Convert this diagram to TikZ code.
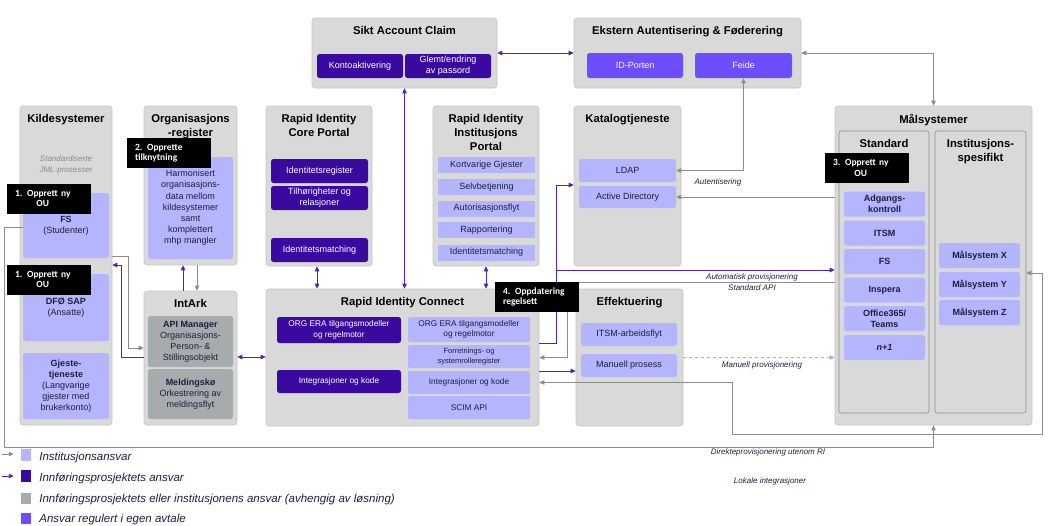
\documentclass[tikz,border=0pt]{standalone}
\usepackage{fontspec}
\setmainfont{Liberation Sans}
\newfontfamily\tagfamily[WordSpace=0.75]{Carlito}
\usepackage{xcolor}
\usepackage{tikz}
\usetikzlibrary{arrows.meta,positioning}

\definecolor{boxgray}{HTML}{D9D9D9}
\definecolor{boxline}{HTML}{C6C6C6}
\definecolor{colline}{HTML}{8E8E8E}
\definecolor{lavender}{HTML}{B4B4FF}
\definecolor{deeppurple}{HTML}{3A0AA0}
\definecolor{midpurple}{HTML}{6E4CFF}
\definecolor{slategray}{HTML}{A6ABAD}
\definecolor{ink}{HTML}{1E1E3C}
\definecolor{arrgray}{HTML}{8C8C8C}
\definecolor{arrpurple}{HTML}{4E22C4}
\definecolor{dashpurple}{HTML}{ADA6F5}
\definecolor{notegray}{HTML}{8A8A8A}

\newcommand{\setfs}[2]{\fontsize{#1}{#2}\selectfont}

\begin{document}
\begin{tikzpicture}[x=1pt, y=-1pt,
    >={Triangle[length=5pt, width=4.5pt]},
    sz/.style 2 args={minimum width=#1pt, minimum height=#2pt},
    grp/.style={draw=boxline, fill=boxgray, rounded corners=3pt, line width=0.6pt, inner sep=0pt},
    col/.style={draw=colline, fill=boxgray, rounded corners=2pt, line width=0.6pt, inner sep=0pt},
    item/.style={rounded corners=2.5pt, inner sep=0pt, align=center, font=\setfs{9}{11}},
    lite/.style={item, fill=lavender, text=ink},
    dark/.style={item, fill=deeppurple, text=white},
    mid/.style={item, fill=midpurple, text=white},
    slate/.style={item, fill=slategray, text=ink},
    title/.style={inner sep=0pt, align=center, font=\bfseries\setfs{11.3}{14}, text=black},
    tagbox/.style={fill=black, text=white, inner xsep=8pt, inner ysep=0pt, align=left,
        text width=68pt, minimum height=30pt, font=\tagfamily\bfseries\setfs{9.5}{10.5}},
    note/.style={inner sep=0pt, font=\itshape\setfs{8}{9.5}, text=ink},
    legend/.style={inner sep=0pt, anchor=base west, font=\itshape\setfs{11.5}{13}, text=ink},
    garr/.style={draw=arrgray, line width=0.7pt, ->},
    parr/.style={draw=arrpurple, line width=0.9pt, ->},
]
\useasboundingbox (0,0) rectangle (1051,525);

% groups
\node[grp, sz={92}{319}] (kilde) at (66,265.5) {};
\node[grp, sz={93}{159}] (orgreg) at (190.5,185.5) {};
\node[grp, sz={93}{134}] (intark) at (190.5,358) {};
\node[grp, sz={185}{70}] (sikt) at (404.5,53) {};
\node[grp, sz={106}{160}] (core) at (319,186) {};
\node[grp, sz={106}{160}] (instp) at (486,186) {};
\node[grp, sz={227}{70}] (ekstern) at (687.5,53) {};
\node[grp, sz={107}{160}] (katalog) at (627.5,186) {};
\node[grp, sz={273}{137}] (ric) at (402.5,357.5) {};
\node[grp, sz={107}{137}] (effekt) at (629.5,357.5) {};
\node[grp, sz={197}{319}] (malsys) at (933.5,265.5) {};
\node[col, sz={90}{282}] (stdcol) at (884,272) {};
\node[col, sz={91}{282}] (instcol) at (980.5,272) {};

% titles
\node[title, below=8.5pt of kilde.north] (kildeT) {Kildesystemer};
\node[title, below=8.5pt of orgreg.north] (orgregT) {Organisasjons\\-register};
\node[title, below=8.5pt of intark.north] (intarkT) {IntArk};
\node[title, below=8.5pt of sikt.north] (siktT) {Sikt Account Claim};
\node[title, below=8.5pt of core.north] (coreT) {Rapid Identity\\Core Portal};
\node[title, below=8.5pt of instp.north] (instpT) {Rapid Identity\\Institusjons\\Portal};
\node[title, below=8.5pt of ekstern.north] (eksternT) {Ekstern Autentisering \& Føderering};
\node[title, below=8.5pt of katalog.north] (katalogT) {Katalogtjeneste};
\node[title, below=8.5pt of ric.north] (ricT) {Rapid Identity Connect};
\node[title, below=8.5pt of effekt.north] (effektT) {Effektuering};
\node[title, below=8pt of malsys.north] (malsysT) {Målsystemer};
\node[title, below=8.5pt of stdcol.north] (stdT) {Standard};
\node[title, below=8.5pt of instcol.north] (instT) {Institusjons-\\spesifikt};

% kildesystemer
\node[note, text=notegray, align=center, font=\itshape\setfs{8}{11}] (jml) at (66,165) {Standardiserte\\JML-prosesser};
\node[lite, sz={86}{65}] (fs) at (66,225.5) {\textbf{FS}\\(Studenter)};
\node[lite, sz={86}{67}] (dfo) at (66,307.5) {\textbf{DFØ SAP}\\(Ansatte)};
\node[lite, sz={86}{66}] (gjest) at (66,386) {\textbf{Gjeste-}\\\textbf{tjeneste}\\(Langvarige\\gjester med\\brukerkonto)};

% organisasjonsregister og IntArk
\node[lite, sz={85}{102}, font=\setfs{9}{11.2}] (harm) at (190.5,208) {Harmonisert\\organisasjons-\\data mellom\\kildesystemer\\samt\\komplettert\\mhp mangler};
\node[slate, sz={85}{51}] (apim) at (190.5,341.5) {\textbf{API Manager}\\Organisasjons-\\Person- \&\\Stillingsobjekt};
\node[slate, sz={85}{50}] (meld) at (190.5,394) {\textbf{Meldingskø}\\Orkestrering av\\meldingsflyt};

% sikt account claim
\node[dark, sz={86}{24}] (konto) at (360,66) {Kontoaktivering};
\node[dark, sz={86}{24}] (glemt) at (448,66) {Glemt/endring\\av passord};

% core portal
\node[dark, sz={97}{24}] (idreg) at (319.5,171) {Identitetsregister};
\node[dark, sz={97}{24}] (tilh) at (319.5,198) {Tilhørigheter og\\relasjoner};
\node[dark, sz={97}{24}] (idmat1) at (319.5,250) {Identitetsmatching};

% institusjons portal
\node[lite, sz={97}{16}, rounded corners=0pt] (kort) at (486.5,165) {Kortvarige Gjester};
\node[lite, sz={97}{16}, rounded corners=0pt] (selv) at (486.5,187) {Selvbetjening};
\node[lite, sz={97}{16}, rounded corners=0pt] (autor) at (486.5,208.5) {Autorisasjonsflyt};
\node[lite, sz={97}{16}, rounded corners=0pt] (rapp) at (486.5,230) {Rapportering};
\node[lite, sz={97}{16}, rounded corners=0pt] (idmat2) at (486.5,252.5) {Identitetsmatching};

% ekstern autentisering og katalog
\node[mid, sz={96}{25}] (idport) at (635,65.5) {ID-Porten};
\node[mid, sz={97}{25}] (feide) at (743.5,65.5) {Feide};
\node[lite, sz={97}{23}] (ldap) at (627.5,170.5) {LDAP};
\node[lite, sz={97}{22}] (ad) at (627.5,197) {Active Directory};

% maalsystemer
\node[lite, sz={81}{25}, font=\bfseries\setfs{9}{11}] (adg) at (884.5,204) {Adgangs-\\kontroll};
\node[lite, sz={81}{25}, font=\bfseries\setfs{9}{11}] (itsm) at (884.5,233) {ITSM};
\node[lite, sz={81}{25}, font=\bfseries\setfs{9}{11}] (fs2) at (884.5,261.5) {FS};
\node[lite, sz={81}{25}, font=\bfseries\setfs{9}{11}] (insp) at (884.5,290) {Inspera};
\node[lite, sz={81}{25}, font=\bfseries\setfs{9}{11}] (o365) at (884.5,318.5) {Office365/\\Teams};
\node[lite, sz={81}{25}, font=\bfseries\setfs{9}{11}] (nplus) at (884.5,347.5) {\textit{n+1}};
\node[lite, sz={81}{25}, font=\bfseries\setfs{9}{11}] (msx) at (979.5,255.5) {Målsystem X};
\node[lite, sz={81}{25}, font=\bfseries\setfs{9}{11}] (msy) at (979.5,284.5) {Målsystem Y};
\node[lite, sz={81}{25}, font=\bfseries\setfs{9}{11}] (msz) at (979.5,312.5) {Målsystem Z};

% rapid identity connect
\node[dark, sz={124}{26}, font=\setfs{8.3}{10.5}] (era1) at (339,330) {ORG ERA tilgangsmodeller\\og regelmotor};
\node[dark, sz={124}{23}, font=\setfs{8.3}{10.5}] (int1) at (339,381.5) {Integrasjoner og kode};
\node[lite, sz={122}{25}, font=\setfs{8.3}{10.5}, rounded corners=1.5pt] (era2) at (469,329.5) {ORG ERA tilgangsmodeller\\og regelmotor};
\node[lite, sz={122}{23}, font=\setfs{7.5}{9.5}, rounded corners=1.5pt] (forr) at (469,356.5) {Forretnings- og\\systemrolleregister};
\node[lite, sz={122}{23}, font=\setfs{8.3}{10.5}, rounded corners=1.5pt] (int2) at (469,382.5) {Integrasjoner og kode};
\node[lite, sz={122}{23}, font=\setfs{8.3}{10.5}, rounded corners=1.5pt] (scim) at (469,407.5) {SCIM API};

% effektuering
\node[lite, sz={96}{23}] (itsmA) at (629,334.5) {ITSM-arbeidsflyt};
\node[lite, sz={96}{23}] (manu) at (629,365.5) {Manuell prosess};

% connectors
\draw[garr] (kilde.east |- 0,256) -- ++(16,0) |- (intark.west |- 0,348);
\draw[parr] (intark.west |- 0,357) -- ++(-22,0) |- (kilde.east |- 0,265);
\draw[parr] (intark.north -| 183,0) -- (orgreg.south -| 183,0);
\draw[garr] (orgreg.south -| 197,0) -- (intark.north -| 197,0);
\draw[parr, <->] (intark.east |- 0,357) -- (ric.west |- 0,357);
\draw[parr, <->] (core.south -| 317,0) -- (ric.north -| 317,0);
\draw[parr, <->] (sikt.south) -- (ric.north -| sikt.south);
\draw[parr, <->] (instp.south) -- (ric.north -| instp.south);
\draw[parr, <->] (sikt.east) -- (ekstern.west);
\draw[garr, <->] (ekstern.east) -| (malsys.north);
\draw[garr, <->] (feide.south) |- (ldap.east);
\node[note] (autT) at (718,182) {Autentisering};
\draw[garr] (malsys.west |- ad.east) -- (ad.east);

\coordinate (autoSplit) at (556,270);
\draw[parr] (ric.east |- 0,343) -- ++(17,0) |- (katalog.west |- 0,185);
\draw[parr] (autoSplit) -- (malsys.west |- autoSplit);
\node[note] (autoT) at (752,277) {Automatisk provisjonering};
\node[note] (stdapiT) at (752,287.5) {Standard API};
\draw[garr] (malsys.west |- 0,282) -| ([xshift=28pt]ric.east) -- (ric.east);
\draw[parr] (ric.east |- 0,371) -- (effekt.west |- 0,371);

\draw[draw=dashpurple, dashed, line width=0.7pt, ->] (effekt.east) -- (malsys.west |- effekt.east);
\node[note] (manT) at (762,365) {Manuell provisjonering};

\coordinate (lokA) at (732,434);
\coordinate (lokB) at (1042,434);
\draw[garr, <->] (ric.east |- int2.east) -| (lokA) -- (lokB) |- (instcol.east |- 0,273);
\node[note] (lokT) at (770,481) {Lokale integrasjoner};

\coordinate (dirA) at (4,447);
\draw[garr] (fs.west |- 0,227) -| (dirA) -| (malsys.south);
\node[note] (dirT) at (768,452.5) {Direkteprovisjonering utenom RI};

% step labels
\node[tagbox] (tag1) at (49,198.5) {\shortstack{1. Opprett ny\\OU}};
\node[tagbox] (tag1b) at (49,279.5) {\shortstack{1. Opprett ny\\OU}};
\node[tagbox] (tag2) at (169,153) {2. Opprette\\tilknytning};
\node[tagbox] (tag3) at (867,168) {\shortstack{3. Opprett ny\\OU}};
\node[tagbox] (tag4) at (537,297) {4. Oppdatering\\regelsett};

% legend
\node[lite, sz={10}{12}, rounded corners=0pt] (lsq1) at (26,455) {};
\node[dark, sz={10}{12}, rounded corners=0pt] (lsq2) at (26,476) {};
\node[slate, sz={10}{11}, rounded corners=0pt] (lsq3) at (26,498) {};
\node[mid, sz={10}{11}, rounded corners=0pt] (lsq4) at (26,518) {};
\node[legend] (ltx1) at ([xshift=8pt, yshift=1pt]lsq1.south east) {Institusjonsansvar};
\node[legend] (ltx2) at ([xshift=8pt, yshift=1pt]lsq2.south east) {Innføringsprosjektets ansvar};
\node[legend] (ltx3) at ([xshift=8pt, yshift=1pt]lsq3.south east) {Innføringsprosjektets eller institusjonens ansvar (avhengig av løsning)};
\node[legend] (ltx4) at ([xshift=8pt, yshift=1pt]lsq4.south east) {Ansvar regulert i egen avtale};
\coordinate (lgA) at (2,454);
\coordinate (lgB) at (2,476);
\draw[garr] (lgA) -- ([xshift=-7pt]lsq1.west |- lgA);
\draw[parr] (lgB) -- ([xshift=-7pt]lsq2.west |- lgB);
\end{tikzpicture}
\end{document}
